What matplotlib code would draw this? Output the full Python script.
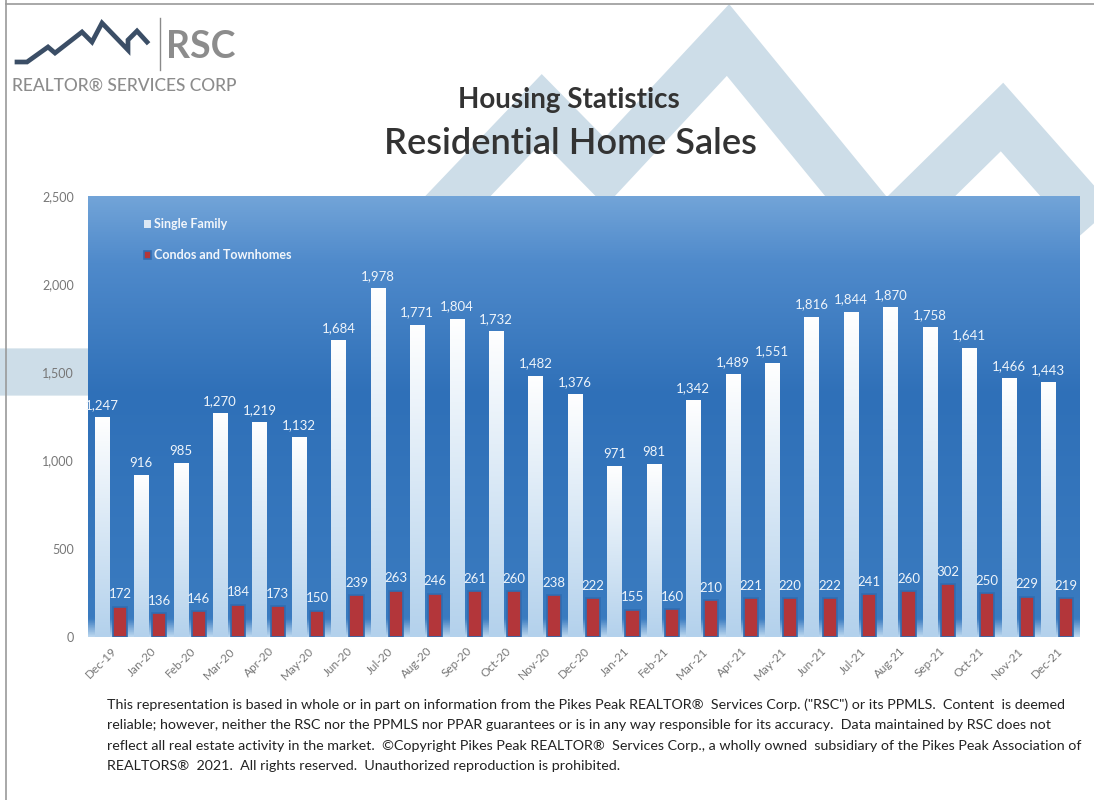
import numpy as np
import matplotlib
matplotlib.use("Agg")
import matplotlib.pyplot as plt
from matplotlib.lines import Line2D
from matplotlib.colors import LinearSegmentedColormap
from matplotlib.ticker import FuncFormatter

plt.rcParams['font.family'] = ['Lato', 'DejaVu Sans']

# data
months = ['Dec-19', 'Jan-20', 'Feb-20', 'Mar-20', 'Apr-20', 'May-20', 'Jun-20', 'Jul-20',
          'Aug-20', 'Sep-20', 'Oct-20', 'Nov-20', 'Dec-20', 'Jan-21', 'Feb-21', 'Mar-21',
          'Apr-21', 'May-21', 'Jun-21', 'Jul-21', 'Aug-21', 'Sep-21', 'Oct-21', 'Nov-21', 'Dec-21']
single_family = [1247, 916, 985, 1270, 1219, 1132, 1684, 1978, 1771, 1804, 1732, 1482, 1376,
                 971, 981, 1342, 1489, 1551, 1816, 1844, 1870, 1758, 1641, 1466, 1443]
condos = [172, 136, 146, 184, 173, 150, 239, 263, 246, 261, 260, 238, 222,
          155, 160, 210, 221, 220, 222, 241, 260, 302, 250, 229, 219]

W, H = 1094, 800
fig = plt.figure(figsize=(W / 100, H / 100), dpi=100)
fig.patch.set_facecolor('white')

def px(x, y):
    return x / W, 1 - y / H

# watermark mountains behind the title
wm = [(-30, 372), (290, 372), (542, 108), (605, 172), (728, 40), (885, 232),
      (1002, 117), (1130, 262)]
wx, wy = zip(*[px(a, b) for a, b in wm])
fig.add_artist(Line2D(wx, wy, color='#cddde8', lw=34, solid_joinstyle='miter',
                      solid_capstyle='butt', zorder=0))

# page border of the scan
fig.add_artist(Line2D([px(6, 0)[0], px(6, 800)[0]], [1, 0], color='#9a9a9a', lw=1.2))
fig.add_artist(Line2D([px(6, 0)[0], 1], [px(0, 4)[1]] * 2, color='#9a9a9a', lw=1.2))

# logo
logo = [(17, 62), (27, 62), (48, 47), (55, 53), (82, 32), (92, 42), (102, 23),
        (128, 50), (128, 40), (137, 31), (147, 42)]
lx, ly = zip(*[px(a, b) for a, b in logo])
fig.add_artist(Line2D(lx, ly, color='#3b4e66', lw=3.4, solid_joinstyle='miter'))
fig.add_artist(Line2D([px(160, 0)[0]] * 2, [px(0, 18)[1], px(0, 70)[1]], color='#8a8a8a', lw=1))
fig.text(*px(166, 47), 'RSC', fontsize=27, fontweight='bold', color='#8c8c8c', va='center')
fig.text(*px(12, 86), 'REALTOR\u00ae SERVICES CORP', fontsize=12.5, color='#8c8c8c',
         va='center', fontweight='medium')

# titles
fig.text(*px(569, 100), 'Housing Statistics', fontsize=20, fontweight='bold',
         color='#333333', ha='center', va='center')
fig.text(*px(570, 144), 'Residential Home Sales', fontsize=26, fontweight='semibold',
         color='#333333', ha='center', va='center')

# plot area
ax = fig.add_axes([88 / W, (H - 637) / H, 992 / W, 441 / H])
x = np.arange(len(months))
off, bw = 0.23, 0.36
ax.set_xlim(-0.58, len(months) - 1 + 0.58)
ax.set_ylim(0, 2500)

bg = LinearSegmentedColormap.from_list('bg', [(0, '#b9d5ee'), (0.04, '#3a7bc0'),
                                              (0.55, '#2f70b8'), (0.85, '#4f8acb'),
                                              (1, '#72a4d8')])
grad = np.linspace(0, 1, 256).reshape(-1, 1)
ax.imshow(grad, cmap=bg, origin='lower', aspect='auto', zorder=0,
          extent=[-0.58, len(months) - 1 + 0.58, 0, 2500])

sf_bars = ax.bar(x - off, single_family, bw, color='white', zorder=2, label='Single Family')
cd_bars = ax.bar(x + off, condos, bw, color='#b3363a', edgecolor='#2f6db2', lw=1.2,
                 zorder=2, label='Condos and Townhomes')

bar_cm = LinearSegmentedColormap.from_list('bar', ['#b3d1ec', '#ffffff'])
for b in sf_bars:
    im = ax.imshow(grad, cmap=bar_cm, origin='lower', aspect='auto', zorder=3,
                   extent=[b.get_x(), b.get_x() + b.get_width(), 0, b.get_height()])
    im.set_clip_path(b)

for xi, v in zip(x, single_family):
    ax.text(xi - off, v + 35, f'{v:,}', ha='center', va='bottom', fontsize=9.5,
            color='#eef4fa', zorder=4)
for xi, v in zip(x, condos):
    ax.text(xi + off, v + 35, f'{v:,}', ha='center', va='bottom', fontsize=9.5,
            color='#eef4fa', zorder=4)

ax.set_xticks(x)
ax.set_xticklabels(months, rotation=45, ha='right', rotation_mode='anchor',
                   fontsize=8.5, color='#777777')
ax.set_yticks([0, 500, 1000, 1500, 2000, 2500])
ax.yaxis.set_major_formatter(FuncFormatter(lambda v, p: f'{int(v):,}'))
ax.tick_params(axis='y', labelsize=9, labelcolor='#777777', length=0, pad=10)
ax.tick_params(axis='x', length=0, pad=6)
for s in ax.spines.values():
    s.set_visible(False)

leg = ax.legend(loc='upper left', bbox_to_anchor=(0.045, 0.975), frameon=False,
                handlelength=0.6, handleheight=0.6, handletextpad=0.2, labelspacing=1.5,
                prop={'weight': 'bold', 'size': 9})
for t in leg.get_texts():
    t.set_color('#f2f6fb')
leg.legend_handles[0].set_facecolor('#dce8f4')

# footer
footer = ("This representation is based in whole or in part on information from the Pikes Peak REALTOR\u00ae  Services Corp. (\"RSC\") or its PPMLS.  Content  is deemed\n"
          "reliable; however, neither the RSC nor the PPMLS nor PPAR guarantees or is in any way responsible for its accuracy.  Data maintained by RSC does not\n"
          "reflect all real estate activity in the market.  \u00a9Copyright Pikes Peak REALTOR\u00ae  Services Corp., a wholly owned  subsidiary of the Pikes Peak Association of\n"
          "REALTORS\u00ae  2021.  All rights reserved.  Unauthorized reproduction is prohibited.")
fig.text(*px(107, 698), footer, fontsize=10.3, color='#222222', va='top', ha='left',
         linespacing=1.85)

fig.savefig('out.png', dpi=100)
